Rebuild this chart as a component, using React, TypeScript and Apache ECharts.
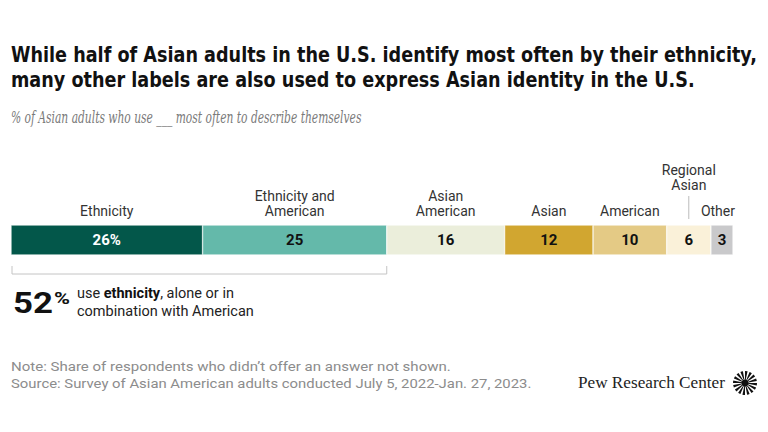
import React, { useEffect, useRef } from "react";
import * as echarts from "echarts";

const categories = ["Ethnicity", "Ethnicity and\nAmerican", "Asian\nAmerican", "Asian", "American", "Regional\nAsian", "Other"];
const values = [26, 25, 16, 12, 10, 6, 3];
const valueLabels = ["26%", "25", "16", "12", "10", "6", "3"];
const ethnicityCombined = 52;

const COLORS = ["#03574A", "#64B9AA", "#EBEEDB", "#D1A630", "#E4CA85", "#FAF1D9", "#C9C9CB"];
const LABEL_COLORS = ["#ffffff", "#111", "#111", "#111", "#111", "#111", "#111"];

const TITLE1 = "While half of Asian adults in the U.S. identify most often by their ethnicity,";
const TITLE2 = "many other labels are also used to express Asian identity in the U.S.";
const SUBTITLE = "% of Asian adults who use ___ most often to describe themselves";
const NOTE = "Note: Share of respondents who didn\u2019t offer an answer not shown.";
const SOURCE = "Source: Survey of Asian American adults conducted July 5, 2022-Jan. 27, 2023.";

function measure(text: string, font: string): number {
  const c = document.createElement("canvas").getContext("2d")!;
  c.font = font;
  return c.measureText(text).width;
}

function fitText(text: string, font: string, x: number, y: number, width: number, fill: string, extra: any = {}) {
  const w = measure(text, font);
  return {
    type: "text",
    x,
    y,
    scaleX: width / w,
    style: { text, font, fill, textAlign: "left", textVerticalAlign: "middle", ...extra },
  };
}

export default function App() {
  const ref = useRef<HTMLDivElement>(null);
  useEffect(() => {
    const chart = echarts.init(ref.current!, undefined, { renderer: "svg" });
    const total = values.reduce((a, b) => a + b, 0);
    const series = values.map((v, i) => ({
      type: "bar",
      name: categories[i],
      stack: "all",
      data: [v],
      barWidth: 30,
      itemStyle: { color: COLORS[i], borderColor: "#ffffff", borderWidth: 0.5 },
      label: {
        show: true,
        position: "inside",
        formatter: valueLabels[i],
        color: LABEL_COLORS[i],
        fontFamily: "Roboto",
        fontWeight: "bold",
        fontSize: 15,
      },
    }));
    chart.setOption({
      animation: false,
      grid: { left: 11, top: 225, width: 722, height: 30, containLabel: false },
      xAxis: { type: "value", min: 0, max: total, show: false },
      yAxis: { type: "category", data: [""], show: false },
      series,
    });

    const graphics: any[] = [];
    // Category labels above bar
    let cum = 0;
    values.forEach((v, i) => {
      const mid = cum + v / 2;
      cum += v;
      let px = chart.convertToPixel({ xAxisIndex: 0 }, mid) as number;
      const lines = categories[i].split("\n");
      let lastCenter = 211;
      if (i === 5) {
        lastCenter = 185;
        graphics.push({
          type: "line",
          shape: { x1: px, y1: 196, x2: px, y2: 219 },
          style: { stroke: "#bbbbbb", lineWidth: 1 },
        });
      }
      if (i === 6) px -= 4;
      lines.forEach((ln, j) => {
        graphics.push({
          type: "text",
          x: px,
          y: lastCenter - (lines.length - 1 - j) * 15,
          style: {
            text: ln,
            font: "14px Roboto",
            fill: "#333",
            textAlign: "center",
            textVerticalAlign: "middle",
          },
        });
      });
    });

    // Bracket under Ethnicity + Ethnicity and American
    const bx0 = chart.convertToPixel({ xAxisIndex: 0 }, 0) as number;
    const bx1 = chart.convertToPixel({ xAxisIndex: 0 }, values[0] + values[1]) as number;
    graphics.push({
      type: "polyline",
      shape: { points: [[bx0 + 1, 266], [bx0 + 1, 274], [bx1, 274], [bx1, 266]] },
      style: { stroke: "#c4c4c4", lineWidth: 1, fill: null },
    });

    // 52% annotation
    graphics.push(fitText(String(ethnicityCombined), "bold 29px Roboto", 13, 303, 40, "#111"));
    graphics.push(fitText("%", "bold 17px Roboto", 54, 298, 16, "#111"));
    graphics.push({
      type: "text",
      x: 77,
      y: 293,
      style: {
        text: "{n|use }{b|ethnicity}{n|, alone or in}",
        textAlign: "left",
        textVerticalAlign: "middle",
        rich: {
          n: { font: "14.5px Roboto", fill: "#222" },
          b: { font: "bold 14.5px Roboto", fill: "#111" },
        },
      },
    });
    graphics.push({
      type: "text",
      x: 77,
      y: 311,
      style: { text: "combination with American", font: "14.5px Roboto", fill: "#222", textAlign: "left", textVerticalAlign: "middle" },
    });

    // Titles
    const titleFont = 'bold 21px "Liberation Sans Narrow", "DejaVu Sans Condensed", Roboto';
    graphics.push(fitText(TITLE1, titleFont, 11, 55, 747, "#111"));
    graphics.push(fitText(TITLE2, titleFont, 11, 80, 684, "#111"));
    graphics.push(fitText(SUBTITLE, 'italic 17px "DejaVu Serif Condensed", "DejaVu Serif", "Liberation Serif"', 11, 117, 351, "#7a7a7a"));

    // Notes
    graphics.push(fitText(NOTE, "13px Roboto", 11, 366, 440, "#8c8c8c"));
    graphics.push(fitText(SOURCE, "13px Roboto", 11, 383, 521, "#8c8c8c"));
    graphics.push(fitText("Pew Research Center", '16px "Liberation Serif", "DejaVu Serif"', 578, 383, 147, "#222"));

    // Logo starburst
    const cx = 745, cy = 383;
    const n = 16;
    const logo: any[] = [];
    for (let k = 0; k < n; k++) {
      const a0 = (k / n) * Math.PI * 2;
      const a1 = a0 + (Math.PI * 2) / n * 0.55;
      logo.push({
        type: "sector",
        shape: { cx, cy, r0: 2, r: 12, startAngle: a0, endAngle: a1 },
        style: { fill: "#111" },
      });
    }
    logo.push({ type: "circle", shape: { cx, cy, r: 3.5 }, style: { fill: "#111" } });
    graphics.push({ type: "group", children: logo });

    chart.setOption({ graphic: graphics });
    return () => chart.dispose();
  }, []);
  return <div ref={ref} style={{ position: "fixed", left: 0, top: 0, width: 768, height: 432, background: "#fff" }} />;
}
